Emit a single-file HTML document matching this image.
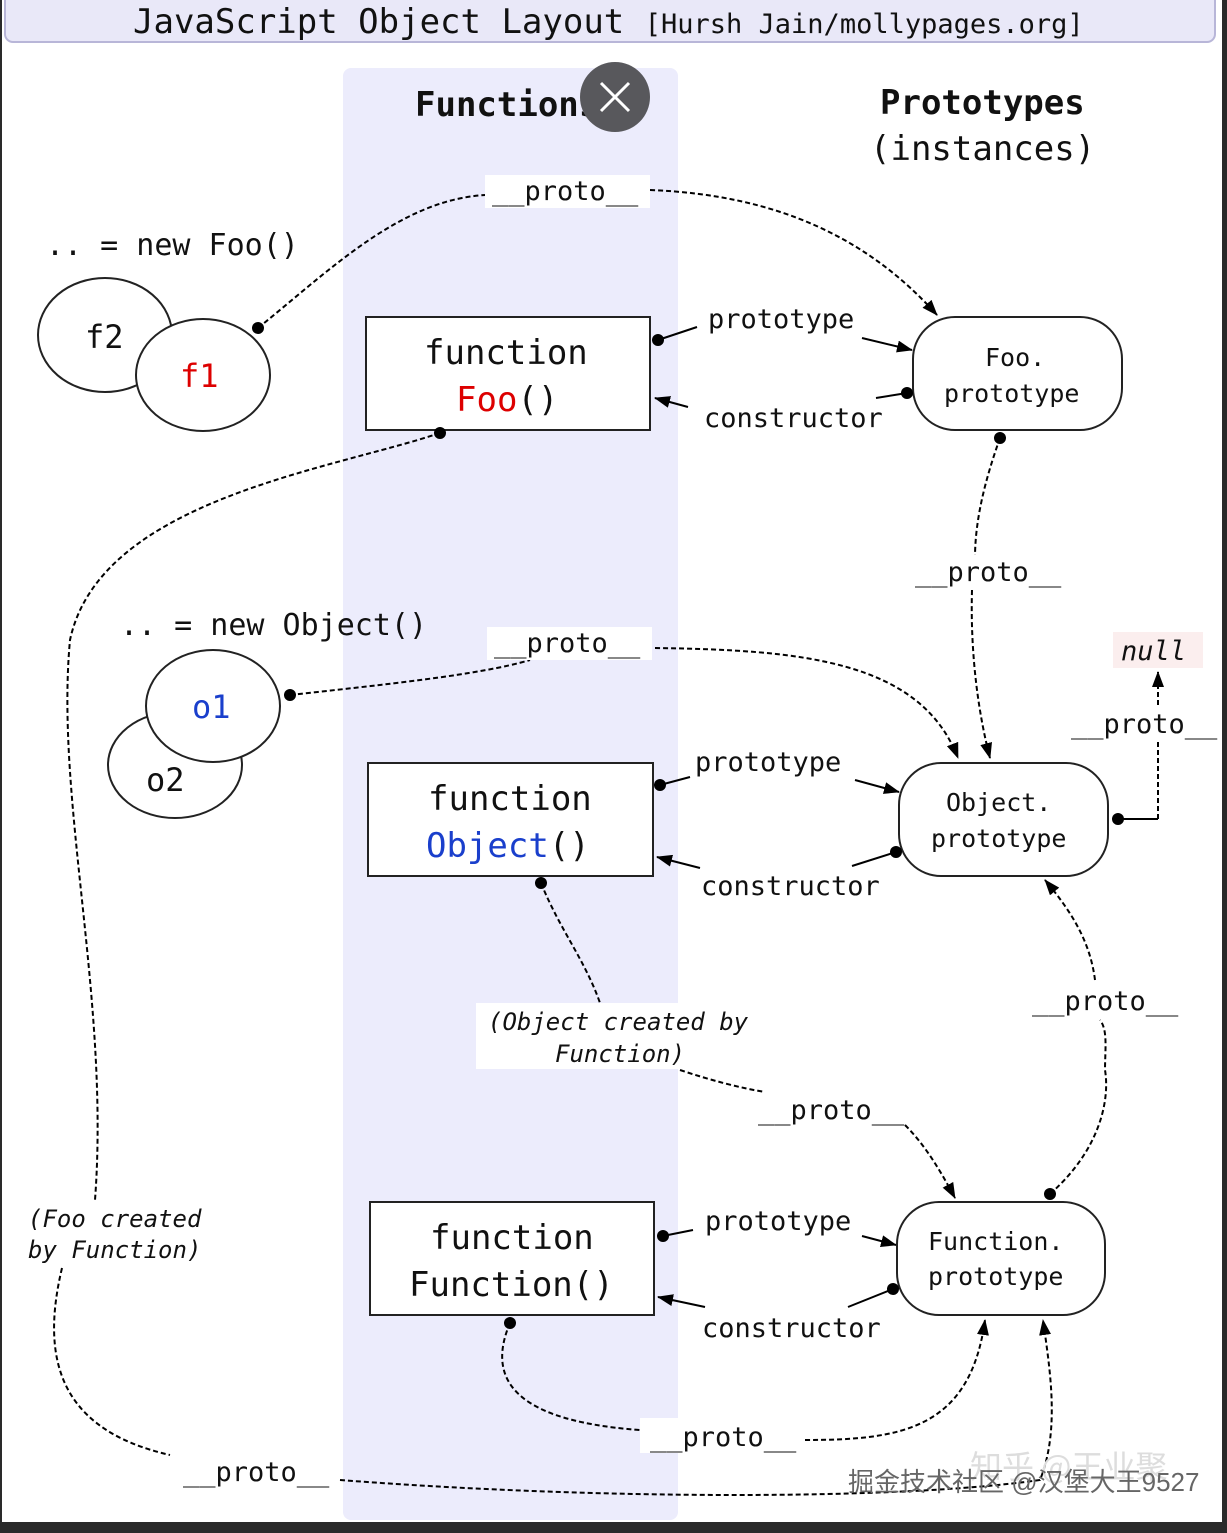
<!DOCTYPE html>
<html><head><meta charset="utf-8"><style>
html,body{margin:0;padding:0;background:#2a2a2a}
svg{display:block}
text{font-family:"DejaVu Sans Mono","Liberation Mono",monospace;fill:#111}
</style></head><body>
<svg width="1227" height="1533" viewBox="0 0 1227 1533" xmlns="http://www.w3.org/2000/svg">
<defs>
<marker id="b" viewBox="0 0 16 12" refX="15" refY="6" markerWidth="16" markerHeight="12" orient="auto" markerUnits="userSpaceOnUse">
<path d="M0,0 L16,6 L0,12 Z" fill="#000"/></marker>
</defs>
<rect x="2" y="0" width="1220" height="1522" fill="#fff"/>
<rect x="5" y="-10" width="1210" height="52" rx="8" fill="#e9e8f8" stroke="#b8b6d8" stroke-width="2"/>
<text x="133" y="33" font-size="34">JavaScript Object Layout <tspan font-size="27">[Hursh Jain/mollypages.org]</tspan></text>
<rect x="343" y="68" width="335" height="1452" rx="8" fill="#ececfc"/>
<text x="415" y="116" font-size="34" font-weight="bold">Functions</text>
<text x="880" y="114" font-size="34" font-weight="bold">Prototypes</text>
<text x="870" y="160" font-size="34">(instances)</text>
<circle cx="615" cy="97" r="35" fill="#58585c"/>
<path d="M601,83 L629,111 M629,83 L601,111" stroke="#fff" stroke-width="3"/>

<g fill="none" stroke="#000" stroke-width="2" stroke-dasharray="5,3">
<path d="M258,328 C330,270 400,200 485,195"/>
<path d="M650,190 C780,195 870,240 937,315" marker-end="url(#b)"/>
<path d="M1000,438 C985,480 975,520 975,558"/>
<path d="M972,590 C970,660 980,720 990,758" marker-end="url(#b)"/>
<path d="M440,433 C330,470 100,500 70,640 C55,800 110,1000 95,1200"/>
<path d="M62,1268 C40,1360 60,1430 170,1455"/>
<path d="M340,1480 C600,1500 900,1500 1040,1480 C1060,1430 1050,1370 1043,1320" marker-end="url(#b)"/>
<path d="M290,695 C380,685 480,675 530,660"/>
<path d="M655,648 C800,650 920,660 958,758" marker-end="url(#b)"/>
<path d="M1158,819 L1158,742"/>
<path d="M1158,705 L1158,672" marker-end="url(#b)"/>
<path d="M541,883 C560,930 585,960 600,1003"/>
<path d="M680,1070 C710,1080 740,1088 765,1092"/>
<path d="M905,1125 C925,1145 940,1170 955,1198" marker-end="url(#b)"/>
<path d="M1050,1194 C1100,1150 1110,1100 1105,1070 C1105,1050 1108,1030 1100,1020"/>
<path d="M1095,980 C1090,940 1070,910 1045,880" marker-end="url(#b)"/>
<path d="M510,1323 C490,1370 500,1420 640,1430"/>
<path d="M805,1440 C900,1440 970,1430 985,1320" marker-end="url(#b)"/>
</g>
<g stroke="#000" stroke-width="2" fill="none">
<path d="M658,340 L697,327"/><path d="M862,338 L912,350" marker-end="url(#b)"/>
<path d="M907,393 L876,398"/><path d="M688,407 L655,398" marker-end="url(#b)"/>
<path d="M660,785 L690,777"/><path d="M855,780 L899,792" marker-end="url(#b)"/>
<path d="M896,852 L852,866"/><path d="M700,868 L657,857" marker-end="url(#b)"/>
<path d="M1118,819 L1158,819"/>
<path d="M663,1236 L693,1230"/><path d="M862,1236 L896,1245" marker-end="url(#b)"/>
<path d="M893,1289 L848,1307"/><path d="M705,1307 L658,1297" marker-end="url(#b)"/>
</g>

<g fill="#fff" stroke="#222" stroke-width="2">
<ellipse cx="105" cy="335" rx="67" ry="57"/>
<ellipse cx="203" cy="375" rx="67" ry="56"/>
<ellipse cx="175" cy="765" rx="67" ry="53"/>
<ellipse cx="213" cy="706" rx="67" ry="56"/>
<rect x="366" y="317" width="284" height="113"/>
<rect x="368" y="763" width="285" height="113"/>
<rect x="370" y="1202" width="284" height="113"/>
<rect x="913" y="317" width="209" height="113" rx="42"/>
<rect x="899" y="763" width="209" height="113" rx="42"/>
<rect x="897" y="1202" width="208" height="113" rx="42"/>
</g>
<g fill="#000">
<circle cx="258" cy="328" r="6"/><circle cx="440" cy="433" r="6"/><circle cx="658" cy="340" r="6"/>
<circle cx="907" cy="393" r="6"/><circle cx="1000" cy="438" r="6"/><circle cx="290" cy="695" r="6"/>
<circle cx="660" cy="785" r="6"/><circle cx="896" cy="852" r="6"/><circle cx="1118" cy="819" r="6"/>
<circle cx="541" cy="883" r="6"/><circle cx="1050" cy="1194" r="6"/><circle cx="663" cy="1236" r="6"/>
<circle cx="893" cy="1289" r="6"/><circle cx="510" cy="1323" r="6"/>
</g>

<text x="85" y="348" font-size="32">f2</text>
<text x="180" y="387" font-size="32" style="fill:#d00">f1</text>
<text x="192" y="718" font-size="32" style="fill:#1a3fcc">o1</text>
<text x="146" y="791" font-size="32">o2</text>
<text x="46" y="255" font-size="30">.. = new Foo()</text>
<text x="120" y="635" font-size="30">.. = new Object()</text>

<text x="424" y="364" font-size="34">function</text>
<text x="456" y="411" font-size="34"><tspan style="fill:#d00">Foo</tspan>()</text>
<text x="428" y="810" font-size="34">function</text>
<text x="426" y="857" font-size="34"><tspan style="fill:#1a3fcc">Object</tspan>()</text>
<text x="430" y="1249" font-size="34">function</text>
<text x="409" y="1296" font-size="34">Function()</text>

<text x="985" y="366" font-size="25">Foo.</text>
<text x="944" y="402" font-size="25">prototype</text>
<text x="946" y="811" font-size="25">Object.</text>
<text x="931" y="847" font-size="25">prototype</text>
<text x="928" y="1250" font-size="25">Function.</text>
<text x="928" y="1285" font-size="25">prototype</text>

<g font-size="27">
<rect x="485" y="175" width="165" height="33" fill="#fff"/>
<text x="492" y="200">__proto__</text>
<text x="708" y="328">prototype</text>
<text x="704" y="427">constructor</text>
<rect x="912" y="555" width="148" height="35" fill="#fff"/>
<text x="915" y="581">__proto__</text>
<rect x="487" y="627" width="165" height="33" fill="#fff"/>
<text x="494" y="652">__proto__</text>
<text x="695" y="771">prototype</text>
<text x="701" y="895">constructor</text>
<rect x="1113" y="632" width="90" height="36" fill="#fbeeee"/>
<text x="1121" y="660" font-style="italic">null</text>
<text x="1071" y="733">__proto__</text>
<rect x="1030" y="984" width="150" height="35" fill="#fff"/>
<text x="1032" y="1010">__proto__</text>
<text x="758" y="1119">__proto__</text>
<text x="705" y="1230">prototype</text>
<text x="702" y="1337">constructor</text>
<rect x="640" y="1418" width="165" height="35" fill="#fff"/>
<text x="650" y="1446">__proto__</text>
<text x="183" y="1481">__proto__</text>
</g>
<rect x="476" y="1003" width="210" height="66" fill="#fff"/>
<text x="488" y="1030" font-size="24" font-style="italic">(Object created by</text>
<text x="555" y="1062" font-size="24" font-style="italic">Function)</text>
<text x="28" y="1227" font-size="24" font-style="italic">(Foo created</text>
<text x="28" y="1258" font-size="24" font-style="italic">by Function)</text>
<text x="970" y="1478" font-size="32" style="fill:#ddd;font-family:'Noto Sans CJK SC',sans-serif">知乎 @王业聚</text>
<text x="848" y="1491" font-size="26" style="fill:#666;font-family:'Liberation Sans','Noto Sans CJK SC',sans-serif">掘金技术社区 @汉堡大王9527</text>
<rect x="0" y="1522" width="1227" height="11" fill="#2a2a2a"/>
</svg>
</body></html>
